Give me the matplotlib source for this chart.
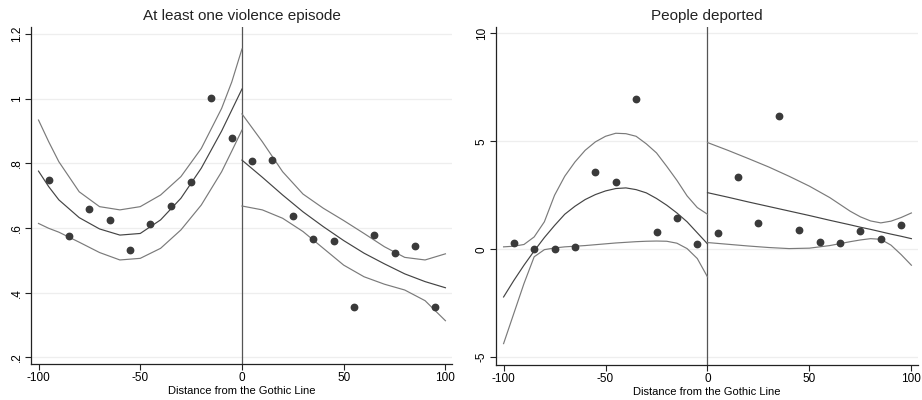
import matplotlib
matplotlib.use("Agg")
import matplotlib.pyplot as plt

plt.rcParams['font.family'] = ['Liberation Sans', 'DejaVu Sans']

# binned means (both panels share the bin centres)
bins = [-95, -85, -75, -65, -55, -45, -35, -25, -15, -5,
        5, 15, 25, 35, 45, 55, 65, 75, 85, 95]
viol = [0.750, 0.575, 0.659, 0.625, 0.532, 0.611, 0.667, 0.742, 1.001, 0.880,
        0.808, 0.809, 0.636, 0.567, 0.559, 0.356, 0.577, 0.521, 0.545, 0.356]
depo = [0.29, 0.03, 0.00, 0.11, 3.56, 3.12, 6.94, 0.80, 1.44, 0.23,
        0.73, 3.36, 1.20, 6.17, 0.90, 0.34, 0.29, 0.86, 0.46, 1.11]

# fitted curves, left and right of the line
fx_l = [-100, -95, -90, -80, -70, -60, -50, -40, -30, -20, -10, -5, 0]
fx_r = [0, 10, 20, 30, 40, 50, 60, 70, 80, 90, 100]

viol_fit_l = [0.776, 0.728, 0.687, 0.632, 0.597, 0.578, 0.583, 0.625, 0.692, 0.785, 0.900, 0.965, 1.030]
viol_hi_l = [0.934, 0.867, 0.805, 0.712, 0.666, 0.656, 0.666, 0.702, 0.759, 0.846, 0.970, 1.052, 1.154]
viol_lo_l = [0.614, 0.599, 0.587, 0.556, 0.524, 0.501, 0.506, 0.537, 0.594, 0.671, 0.774, 0.838, 0.903]
viol_fit_r = [0.810, 0.757, 0.702, 0.650, 0.604, 0.561, 0.522, 0.489, 0.458, 0.434, 0.415]
viol_hi_r = [0.953, 0.867, 0.774, 0.705, 0.661, 0.623, 0.583, 0.542, 0.509, 0.501, 0.520]
viol_lo_r = [0.668, 0.656, 0.630, 0.589, 0.537, 0.485, 0.449, 0.426, 0.408, 0.375, 0.313]

dx_l = [-100, -95, -90, -85, -80, -75, -70, -65, -60, -55, -50, -45, -40, -35,
        -30, -25, -20, -15, -10, -5, 0]
depo_fit_l = [-2.21, -1.45, -0.74, -0.08, 0.54, 1.10, 1.62, 1.99, 2.30, 2.53, 2.70, 2.81,
              2.84, 2.76, 2.61, 2.35, 2.04, 1.68, 1.27, 0.76, 0.25]
depo_hi_l = [0.11, 0.14, 0.22, 0.57, 1.27, 2.50, 3.38, 4.04, 4.58, 4.97, 5.23, 5.37,
             5.35, 5.23, 4.88, 4.46, 3.84, 3.19, 2.47, 1.93, 1.62]
depo_lo_l = [-4.37, -2.98, -1.59, -0.35, -0.02, 0.06, 0.11, 0.14, 0.17, 0.21, 0.25, 0.29,
             0.32, 0.35, 0.37, 0.38, 0.37, 0.28, 0.03, -0.43, -1.28]
dx_r = [0, 10, 20, 30, 40, 50, 60, 70, 75, 80, 85, 90, 95, 100]
depo_fit_r = [2.62, 2.41, 2.19, 1.98, 1.77, 1.56, 1.34, 1.13, 1.02, 0.92, 0.81, 0.70, 0.60, 0.49]
depo_hi_r = [4.94, 4.58, 4.20, 3.81, 3.38, 2.92, 2.39, 1.76, 1.50, 1.31, 1.22, 1.30, 1.47, 1.68]
depo_lo_r = [0.31, 0.23, 0.15, 0.08, 0.03, 0.05, 0.17, 0.35, 0.43, 0.49, 0.46, 0.19, -0.25, -0.74]

fig = plt.figure(figsize=(9.22, 4.0), dpi=100)
ax1 = fig.add_axes([0.0336, 0.09, 0.457, 0.8425])
ax2 = fig.add_axes([0.538, 0.0875, 0.458, 0.845])


def panel(ax, y, fits, title, yticks, ylabels, ylim):
    for (xs, ys, col) in fits:
        ax.plot(xs, ys, color=col, lw=0.85, zorder=3, solid_joinstyle='round')
    ax.axvline(0, color='#555555', lw=0.9, zorder=2)
    ax.plot(bins, y, 'o', color='#3a3a3a', ms=4.6, zorder=4)
    ax.set_xlim(-103.7, 103.4)
    ax.set_ylim(*ylim)
    ax.set_xticks([-100, -50, 0, 50, 100])
    ax.set_xticklabels(['-100', '-50', '0', '50', '100'])
    ax.set_yticks(yticks)
    ax.set_yticklabels(ylabels, rotation=90, va='center')
    ax.grid(axis='y', color='#eeeeee', lw=0.9, zorder=0)
    ax.spines['top'].set_visible(False)
    ax.spines['right'].set_visible(False)
    for s in ('left', 'bottom'):
        ax.spines[s].set_color('#222222')
        ax.spines[s].set_linewidth(0.9)
    ax.tick_params(length=4, width=0.8, color='#222222', labelsize=8.5, pad=2)
    ax.set_xlabel('Distance from the Gothic Line', fontsize=8, labelpad=1)
    ax.set_title(title, fontsize=11, color='#222222', pad=5)


panel(ax1, viol,
      [(fx_l, viol_hi_l, '#7a7a7a'), (fx_l, viol_lo_l, '#7a7a7a'), (fx_l, viol_fit_l, '#444444'),
       (fx_r, viol_hi_r, '#7a7a7a'), (fx_r, viol_lo_r, '#7a7a7a'), (fx_r, viol_fit_r, '#444444')],
      'At least one violence episode',
      [0.2, 0.4, 0.6, 0.8, 1.0, 1.2], ['.2', '.4', '.6', '.8', '1', '1.2'],
      (0.179, 1.222))

panel(ax2, depo,
      [(dx_l, depo_hi_l, '#7a7a7a'), (dx_l, depo_lo_l, '#7a7a7a'), (dx_l, depo_fit_l, '#444444'),
       (dx_r, depo_hi_r, '#7a7a7a'), (dx_r, depo_lo_r, '#7a7a7a'), (dx_r, depo_fit_r, '#444444')],
      'People deported',
      [-5, 0, 5, 10], ['-5', '0', '5', '10'],
      (-5.36, 10.29))

fig.savefig('out.png', dpi=100)
